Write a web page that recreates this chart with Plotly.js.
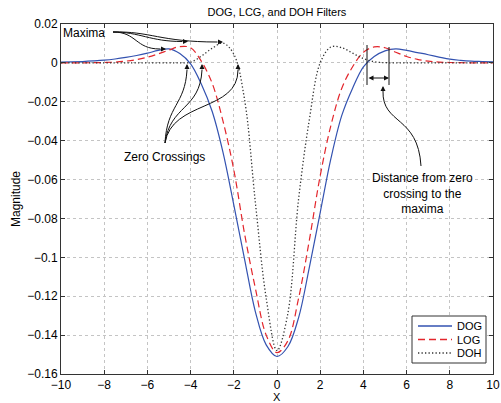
<!DOCTYPE html>
<html>
<head>
<meta charset="utf-8">
<script src="https://cdn.plot.ly/plotly-3.0.1.min.js"></script>
<style>html,body{margin:0;padding:0;background:#fff;}#chart{width:501px;height:403px;}</style>
</head>
<body>
<div id="chart"></div>
<script>
// ---- data ----
const xValues = [-10,-9.5,-9,-8.5,-8,-7.5,-7,-6.5,-6,-5.5,-5,-4.5,-4,-3.5,-3,-2.5,-2,-1.5,-1,-0.5,0,
                 0.5,1,1.5,2,2.5,3,3.5,4,4.5,5,5.5,6,6.5,7,7.5,8,8.5,9,9.5,10];
const dogValues = [0.0004,0.0005,0.0007,0.0010,0.0014,0.0020,0.0028,0.0038,0.0050,0.0064,0.0072,0.0048,-0.0005,-0.011,-0.025,-0.046,-0.073,-0.101,-0.128,-0.145,-0.151,
                   -0.146,-0.131,-0.105,-0.077,-0.049,-0.027,-0.013,-0.002,0.0033,0.0062,0.0072,0.0064,0.0053,0.0042,0.0030,0.0019,0.0013,0.0009,0.0007,0.0005];
const logValues = [0,0,0,0.0001,0.0002,0.0004,0.0009,0.0017,0.0029,0.0046,0.0066,0.0084,0.0078,0.0008,-0.0105,-0.030,-0.055,-0.088,-0.116,-0.140,-0.149,
                   -0.143,-0.121,-0.091,-0.058,-0.032,-0.013,-0.002,0.0055,0.0082,0.0078,0.0055,0.0033,0.0018,0.0009,0.0004,0.0002,0.0001,0,0,0];
const dohValues = [0,0,0,0,0,0,0,0,0,0,0,0,0.0003,0.0035,0.0075,0.0102,0.0045,-0.019,-0.072,-0.121,-0.148,
                   -0.129,-0.070,-0.029,0.0000,0.0082,0.0078,0.0050,0.0022,0.0006,0.0001,0,0,0,0,0,0,0,0,0,0];
const seriesNames = ['DOG','LOG','DOH'];
const chartTitle = 'DOG, LCG, and DOH Filters';
const xTitle = 'X';
const yTitle = 'Magnitude';

// ---- styling ----
const colors = ['#3352b0','#e3262c','#333333'];
const dashes = ['solid','7px,4px','1.3px,2.2px'];
const widths = [1.2,1.2,1.3];
const seriesValues = [dogValues, logValues, dohValues];

const traces = seriesNames.map((name,i)=>({
  type:'scatter', mode:'lines', name:name,
  x:xValues, y:seriesValues[i],
  line:{color:colors[i], width:widths[i], dash:dashes[i], shape:'spline', smoothing:1},
  hoverinfo:'skip'
}));

// pixel -> paper helpers for annotation layout
const L=61, T=24, PW=432, PH=350;
const px = p => (p - L)/PW;
const py = p => (T + PH - p)/PH;
const ink = '#111';
function curve(p){
  return {type:'path', xref:'paper', yref:'paper',
    path:`M ${px(p[0][0])} ${py(p[0][1])} C ${px(p[1][0])} ${py(p[1][1])} ${px(p[2][0])} ${py(p[2][1])} ${px(p[3][0])} ${py(p[3][1])}`,
    line:{color:ink, width:1}, fillcolor:'rgba(0,0,0,0)'};
}
function seg(x0,y0,x1,y1,color,width,dash){
  return {type:'line', xref:'paper', yref:'paper', x0:px(x0), y0:py(y0), x1:px(x1), y1:py(y1),
    line:{color:color||ink, width:width||1, dash:dash||'solid'}};
}
function head(tx,ty,dx,dy,extra){
  return Object.assign({x:px(tx), y:py(ty), xref:'paper', yref:'paper', ax:dx, ay:dy, text:'',
    showarrow:true, arrowhead:2, arrowsize:1, arrowwidth:1, arrowcolor:ink, standoff:0}, extra||{});
}
function label(text,cx,cy,size,anchor,vanchor){
  return {x:px(cx), y:py(cy), xref:'paper', yref:'paper', text:text, showarrow:false,
    xanchor:anchor||'center', yanchor:vanchor||'middle', align:'center', font:{size:size||12, color:'#000'}};
}

const shapes = [
  // Maxima leaders
  curve([[113,32],[137,32],[135,49],[160,49]]),
  curve([[113,32],[140,32],[150,41.5],[182,41.5]]),
  curve([[113,32],[150,31],[160,42],[217,42]]),
  // Zero crossing leaders
  curve([[165,143],[167,105],[185,105],[187,70]]),
  curve([[165,143],[170,105],[200,110],[202,70]]),
  curve([[165,143],[172,100],[238,112],[238,70]]),
  // distance marker
  seg(367,45,367,85), seg(389,47,389,85),
  curve([[383,91],[382,125],[418,115],[421,166]]),
  // legend
  {type:'rect', xref:'paper', yref:'paper', x0:px(412), y0:py(316), x1:px(486), y1:py(363),
   line:{color:'#333', width:1}, fillcolor:'#fff', layer:'above'},
  seg(418,326,452,326,colors[0],1.3,dashes[0]),
  seg(418,339.5,452,339.5,colors[1],1.3,dashes[1]),
  seg(418,353,452,353,colors[2],1.3,dashes[2])
];

const annotations = [
  head(166,49,-7,0), head(188,41.5,-7,0), head(223,42,-7,0),
  head(187,64,0,7), head(202,64,0,7), head(238,64,0,7),
  head(383,86,0,6),
  head(389,78,-22,0,{arrowside:'end+start', startarrowhead:2, startarrowsize:1}),
  label('Maxima',84,33,12),
  label('Zero Crossings',164,157,12),
  label('Distance from zero<br>crossing to the<br>maxima',422,193,12),
  label(seriesNames[0],455,326,11,'left'),
  label(seriesNames[1],455,339.5,11,'left'),
  label(seriesNames[2],455,353,11,'left'),
  // x-axis title placed in the bottom margin
  Object.assign(label(xTitle,277,403.5,11,'center','bottom'), {borderpad:0})
];

const axisCommon = {
  ticks:'inside', ticklen:4, tickcolor:'#333', tickwidth:1,
  showline:true, linecolor:'#333', linewidth:1, mirror:'ticks',
  showgrid:true, gridcolor:'#c4c4c4', griddash:'dot', gridwidth:1,
  zeroline:false, tickfont:{size:12, color:'#000'}
};

const layout = {
  width:501, height:403,
  margin:{l:L, r:501-L-PW, t:T, b:403-T-PH},
  paper_bgcolor:'#fff', plot_bgcolor:'#fff',
  font:{family:'"Liberation Sans", Arial, Helvetica, sans-serif', size:12, color:'#000'},
  title:{text:chartTitle, font:{size:11, color:'#000'}, x:0.5, xref:'paper', xanchor:'center', y:1-12/403, yanchor:'middle'},
  xaxis:Object.assign({}, axisCommon, {range:[-10,10], tick0:0, dtick:2}),
  yaxis:Object.assign({}, axisCommon, {range:[-0.16,0.02], tick0:0, dtick:0.02,
    title:{text:yTitle, font:{size:12}, standoff:4}}),
  showlegend:false,
  shapes:shapes,
  annotations:annotations
};

Plotly.newPlot('chart', traces, layout, {staticPlot:true, displayModeBar:false});
</script>
</body>
</html>
